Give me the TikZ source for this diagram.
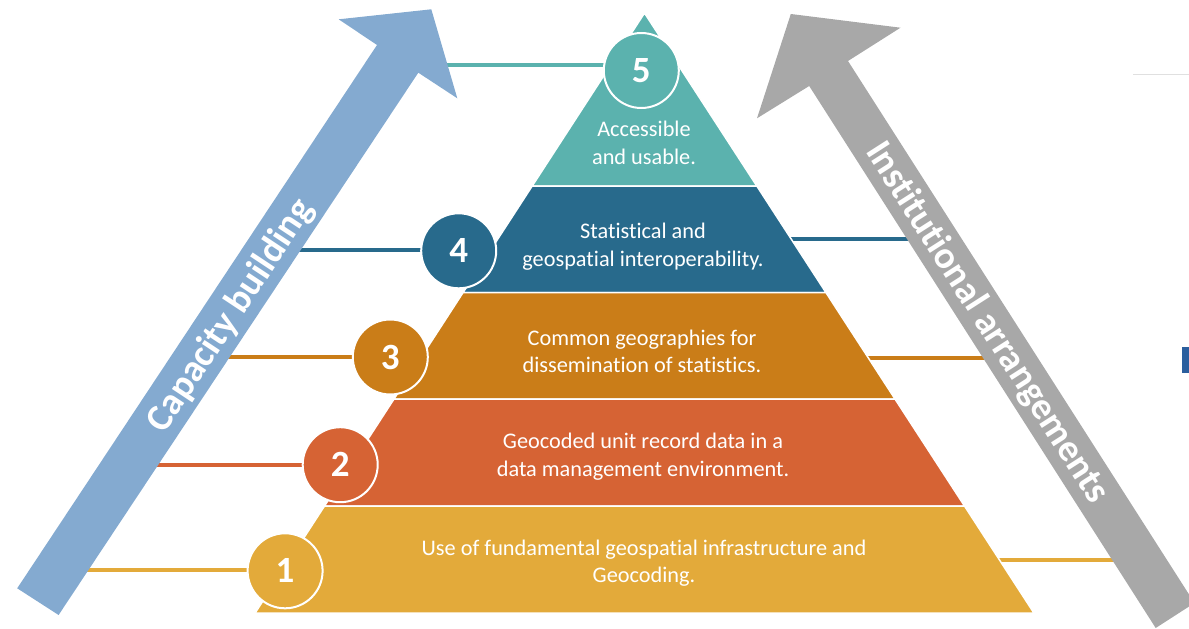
\documentclass[tikz,border=0pt]{standalone}
\usepackage{fontspec}
\setmainfont[Ligatures=NoCommon]{Carlito}
\pgfdeclarelayer{bg}
\pgfdeclarelayer{mid}
\pgfsetlayers{bg,mid,main}
\definecolor{tealc}{RGB}{91,178,174}
\definecolor{navyc}{RGB}{40,106,140}
\definecolor{brownc}{RGB}{202,125,24}
\definecolor{redc}{RGB}{214,99,52}
\definecolor{yellowc}{RGB}{227,170,58}
\definecolor{bluearr}{RGB}{132,170,208}
\definecolor{grayarr}{RGB}{168,168,168}
\definecolor{fragc}{RGB}{43,95,158}
\begin{document}
\begin{tikzpicture}[x=1pt,y=-1pt,
  num/.style={circle, draw=white, line width=2pt, minimum size=75pt, inner sep=0pt, text=white, font=\fontsize{37}{37}\selectfont\bfseries},
  lbl/.style={text=white, align=center, font=\fontsize{22.3}{27.5}\selectfont},
  conn/.style={line width=4pt},
  layer/.style={draw=white, line width=1.5pt},
  arrowtxt/.style={text=white, font=\fontsize{38}{38}\selectfont\bfseries}]
\useasboundingbox (0,0) rectangle (1189,629);
\clip (0,0) rectangle (1189,629);
% circles
\node[num, fill=tealc]   (c5) at (641.3,70.5) {5};
\node[num, fill=navyc]   (c4) at (458.7,250.8) {4};
\node[num, fill=brownc]  (c3) at (390.3,357) {3};
\node[num, fill=redc]    (c2) at (340.2,464.7) {2};
\node[num, fill=yellowc] (c1) at (285.1,570.8) {1};
% connector end points
\coordinate (b5) at (430,64.7);
\coordinate (b4) at (280,250.3);
\coordinate (b3) at (210,357);
\coordinate (b2) at (140,464.7);
\coordinate (b1) at (70,570.3);
\coordinate (p4) at (785,238.7);
\coordinate (g4) at (925,238.7);
\coordinate (p3) at (865,357.7);
\coordinate (g3) at (1000,357.7);
\coordinate (p1) at (995,560);
\coordinate (g1) at (1130,560);
\begin{pgfonlayer}{bg}
\draw[conn, tealc]   (b5) -- (b5 -| c5);
\draw[conn, navyc]   (b4) -- (b4 -| c4);
\draw[conn, brownc]  (b3) -- (b3 -| c3);
\draw[conn, redc]    (b2) -- (b2 -| c2);
\draw[conn, yellowc] (b1) -- (b1 -| c1);
\draw[conn, navyc]   (p4) -- (g4);
\draw[conn, brownc]  (p3) -- (g3);
\draw[conn, yellowc] (p1) -- (g1);
\end{pgfonlayer}
\begin{pgfonlayer}{mid}
% arrows
\fill[bluearr] (17.2,588.3) -- (377,45) -- (338.7,19.3) -- (431.3,9.3) -- (457.3,98.3) -- (418.3,72.7) -- (58.6,615) -- cycle;
\fill[grayarr] (1155.7,628) -- (809.2,86) -- (757,118.3) -- (790.8,14) -- (900.5,27.7) -- (848,61) -- (1194.5,603) -- cycle;
% pyramid
\path[layer, fill=tealc]   (644.5,13) -- (756.8,186) -- (532.2,186) -- cycle;
\path[layer, fill=navyc]   (532.2,186) -- (756.8,186) -- (825.9,292.5) -- (463.1,292.5) -- cycle;
\path[layer, fill=brownc]  (463.1,292.5) -- (825.9,292.5) -- (895,399) -- (394,399) -- cycle;
\path[layer, fill=redc]    (394,399) -- (895,399) -- (964.5,506) -- (324.5,506) -- cycle;
\path[layer, fill=yellowc] (324.5,506) -- (964.5,506) -- (1033.9,613) -- (255.1,613) -- cycle;
% small details at right
\draw[line width=1pt, black!12] (1133,74) -- (1189,74);
\fill[fragc] (1182.3,346.7) rectangle (1189,373.3);
\end{pgfonlayer}
% texts
\node[lbl] (t5) at (644,143) {Accessible\\and usable.};
\node[lbl] (t4) at (643,246.5) {Statistical and\\geospatial interoperability.};
\node[lbl] (t3) at (642,351.5) {Common geographies for\\dissemination of statistics.};
\node[lbl] (t2) at (643,456.5) {Geocoded unit record data in a\\data management environment.};
\node[lbl] (t1) at (644,563) {Use of fundamental geospatial infrastructure and\\Geocoding.};
\node[arrowtxt, rotate=56.5] (cap) at (231,316) {Capacity building};
\node[arrowtxt, rotate=-57.4] (inst) at (987,323) {Institutional arrangements};
\end{tikzpicture}
\end{document}
